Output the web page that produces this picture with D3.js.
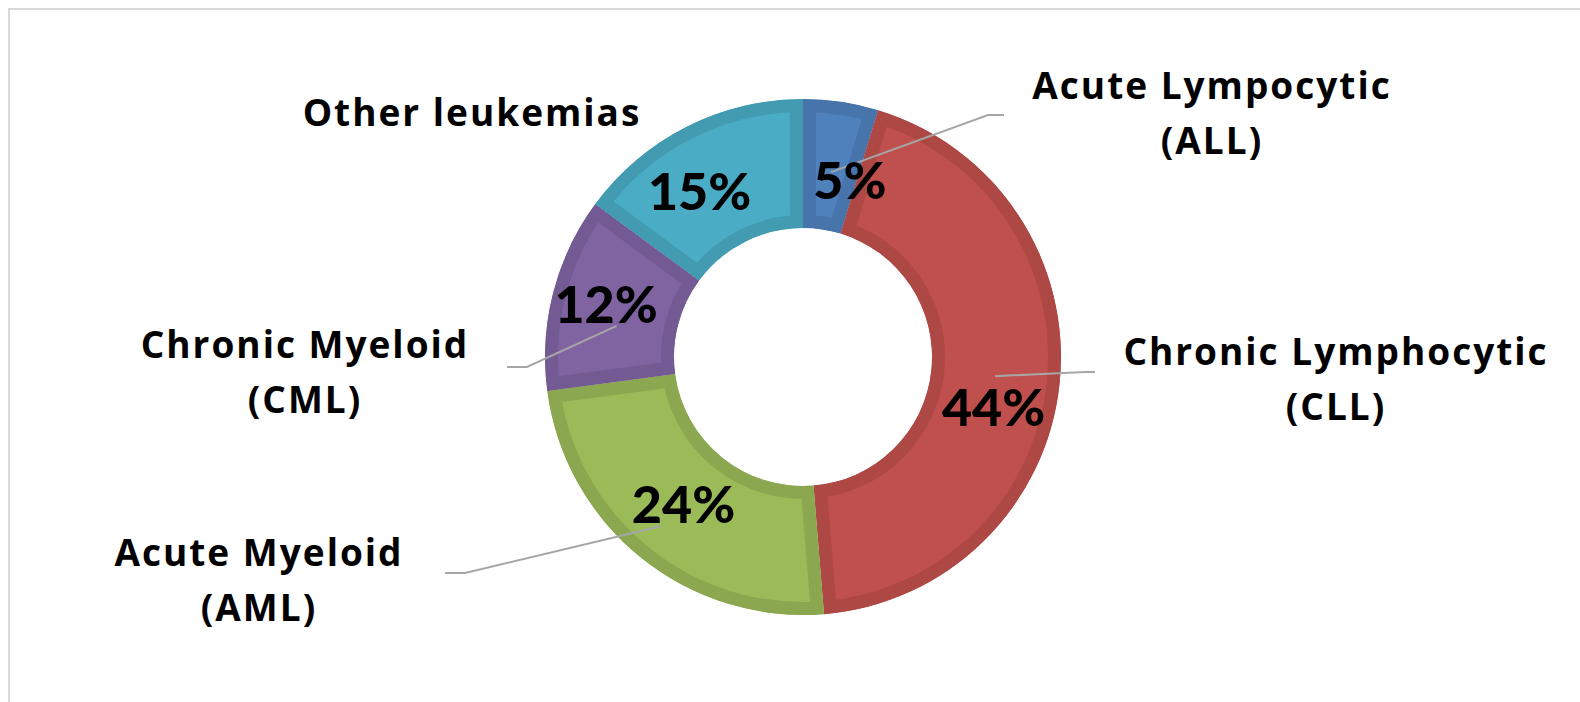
<!DOCTYPE html>
<html>
<head>
<meta charset="utf-8">
<script src="https://cdn.jsdelivr.net/npm/d3@7"></script>
<style>
  html, body { margin: 0; padding: 0; background: #fff; }
  svg { display: block; }
  .pct { font-family: Lato, "Open Sans", sans-serif; font-weight: 900; font-size: 52px; fill: #000; }
  .cat { font-family: "Open Sans", sans-serif; font-weight: 700; font-size: 37px; letter-spacing: 2px; fill: #000; }
  .leader { fill: none; stroke: #a6a6a6; stroke-width: 2; }
</style>
</head>
<body>
<svg id="chart"></svg>
<script>
const width = 1580;
const height = 702;

// data, clockwise from 12 o'clock
const categories = ["ALL", "CLL", "AML", "CML", "Other"];
const values = [4.7, 44.0, 24.2, 12.2, 14.9];
const labelLines = [
  ["Acute Lympocytic", "(ALL)"],
  ["Chronic Lymphocytic", "(CLL)"],
  ["Acute Myeloid", "(AML)"],
  ["Chronic Myeloid", "(CML)"],
  ["Other leukemias"]
];

const colors = ["#4f81bd", "#c0504d", "#9bbb59", "#8064a2", "#4bacc6"];

// layout
const cx = 803, cy = 357;
const rOuter = 258, rInner = 129;
const band = 13;

// percentage labels: angle nudge (deg) from slice middle, radius
const pctNudge = [6.4, 8.6, 0.1, 0.7, -5.2];
const pctRadius = [183, 197, 190, 204, 195];

// category labels: first baseline centre
const catPos = [[1212, 99], [1336, 365], [259, 566], [305, 358], [472, 126]];
const lineGap = 55;

// leader lines: start (deg, radius) on the ring, elbow, end
const leaders = [
  { start: [8.6, 187], elbow: [988, 115], end: [1004, 115] },
  { start: [95.7, 193], elbow: [1085, 372], end: [1095, 372] },
  { start: [220, 221], elbow: [465, 573], end: [445, 573] },
  { start: [279.5, 189], elbow: [527, 367], end: [507, 367] },
  null
];

const svg = d3.select("#chart")
  .attr("width", width)
  .attr("height", height);

// chart area border, runs off the right and bottom edge
svg.append("rect")
  .attr("x", 9).attr("y", 9)
  .attr("width", width + 20).attr("height", height + 20)
  .attr("fill", "#fff")
  .attr("stroke", "#d9d9d9")
  .attr("stroke-width", 2);

const pie = d3.pie().value(d => d).sort(null);
const arcs = pie(values);

const arc = d3.arc().innerRadius(rInner).outerRadius(rOuter);

const g = svg.append("g").attr("transform", `translate(${cx},${cy})`);

const defs = svg.append("defs");
arcs.forEach((a, i) => {
  defs.append("clipPath").attr("id", "clip" + i)
    .append("path").attr("d", arc(a));
});

g.selectAll("path.slice")
  .data(arcs)
  .join("path")
  .attr("class", "slice")
  .attr("d", arc)
  .attr("fill", (d, i) => colors[i])
  .attr("stroke", (d, i) => d3.color(colors[i]).darker(0.3))
  .attr("stroke-width", band * 2)
  .attr("stroke-linejoin", "miter")
  .attr("clip-path", (d, i) => `url(#clip${i})`);

function polar(deg, r) {
  const t = deg * Math.PI / 180;
  return [cx + r * Math.sin(t), cy - r * Math.cos(t)];
}

// leader lines
const line = d3.line();
svg.selectAll("path.leader")
  .data(leaders.filter(d => d))
  .join("path")
  .attr("class", "leader")
  .attr("d", d => line([polar(d.start[0], d.start[1]), d.elbow, d.end]));

// percentage labels
svg.selectAll("text.pct")
  .data(arcs)
  .join("text")
  .attr("class", "pct")
  .attr("text-anchor", "middle")
  .attr("dy", "0.36em")
  .attr("transform", (d, i) => {
    const mid = (d.startAngle + d.endAngle) / 2 * 180 / Math.PI;
    const p = polar(mid + pctNudge[i], pctRadius[i]);
    return `translate(${p[0]},${p[1]})`;
  })
  .text(d => Math.round(d.value) + "%");

// category labels
const cat = svg.selectAll("text.cat")
  .data(categories)
  .join("text")
  .attr("class", "cat")
  .attr("text-anchor", "middle")
  .attr("x", (d, i) => catPos[i][0])
  .attr("y", (d, i) => catPos[i][1]);

cat.selectAll("tspan")
  .data((d, i) => labelLines[i].map(t => ({ t, x: catPos[i][0] })))
  .join("tspan")
  .attr("x", d => d.x)
  .attr("dy", (d, j) => j === 0 ? 0 : lineGap)
  .text(d => d.t);
</script>
</body>
</html>
